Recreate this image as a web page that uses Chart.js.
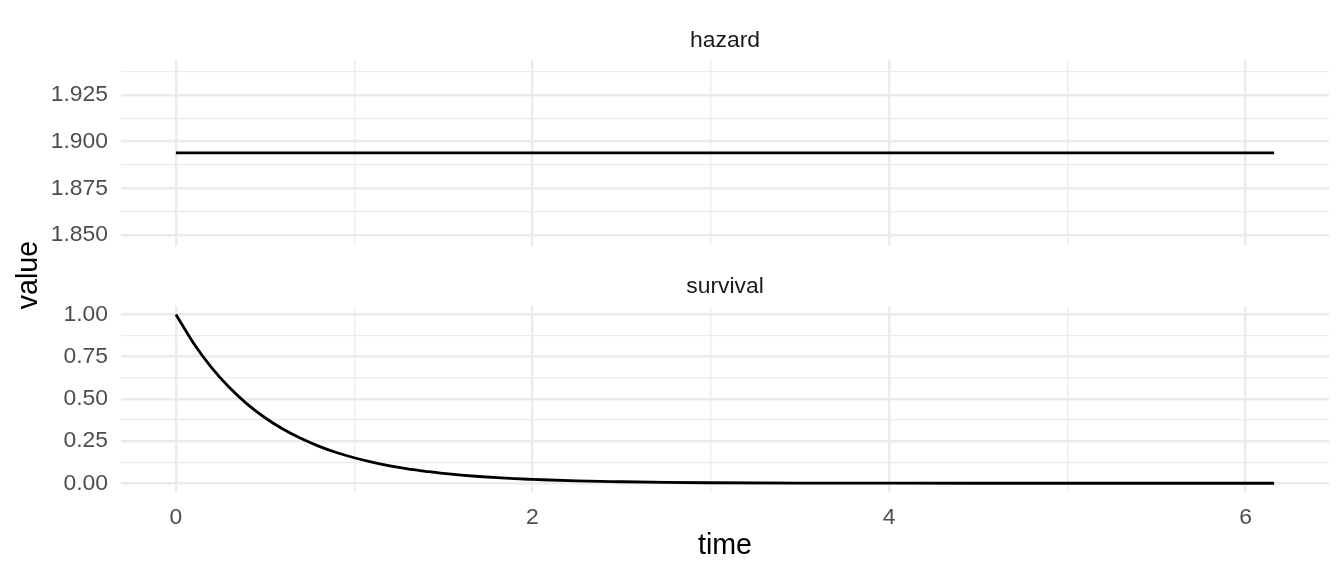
<!DOCTYPE html>
<html>
<head>
<meta charset="utf-8">
<script src="https://cdn.jsdelivr.net/npm/chart.js@4/dist/chart.umd.min.js"></script>
<style>
  html, body { margin: 0; padding: 0; background: #ffffff; }
  #wrap { position: relative; width: 1344px; height: 576px; }
  canvas { position: absolute; left: 0; top: 0; }
</style>
</head>
<body>
<div id="wrap">
  <canvas id="c1" width="1344" height="576"></canvas>
  <canvas id="c2" width="1344" height="576"></canvas>
</div>
<script>
// ---- data ----
const panelNames = ['hazard', 'survival'];
const times = [0, 0.1, 0.2, 0.3, 0.4, 0.5, 0.6, 0.7, 0.8, 0.9, 1.0, 1.1, 1.2, 1.3, 1.4, 1.5, 1.6, 1.7, 1.8, 1.9, 2.0, 2.25, 2.5, 2.75, 3.0, 3.5, 4.0, 4.5, 5.0, 5.5, 6.0, 6.16];
const hazardValues = [1.894, 1.894, 1.894, 1.894, 1.894, 1.894, 1.894, 1.894, 1.894, 1.894, 1.894, 1.894, 1.894, 1.894, 1.894, 1.894, 1.894, 1.894, 1.894, 1.894, 1.894, 1.894, 1.894, 1.894, 1.894, 1.894, 1.894, 1.894, 1.894, 1.894, 1.894, 1.894];
const survivalValues = [1.000, 0.828, 0.685, 0.567, 0.469, 0.388, 0.321, 0.266, 0.220, 0.182, 0.151, 0.125, 0.103, 0.085, 0.071, 0.058, 0.048, 0.040, 0.033, 0.027, 0.023, 0.014, 0.009, 0.005, 0.003, 0.001, 0.0005, 0.0002, 0.0001, 0, 0, 0];

const timeTickLabels = ['0', '2', '4', '6'];
const timeMajorTicks = [0, 2, 4, 6];
const timeMinorTicks = [1, 3, 5];
const hazardTickLabels = ['1.850', '1.875', '1.900', '1.925'];
const hazardMajorTicks = [1.850, 1.875, 1.900, 1.925];
const hazardMinorTicks = [1.8625, 1.8875, 1.9125, 1.9375];
const survivalTickLabels = ['0.00', '0.25', '0.50', '0.75', '1.00'];
const survivalMajorTicks = [0, 0.25, 0.5, 0.75, 1.0];
const survivalMinorTicks = [0.125, 0.375, 0.625, 0.875];

const timeRange = [-0.308, 6.468];
const hazardRange = [1.8441, 1.9437];
const survivalRange = [-0.05, 1.05];

// ---- styling ----
const FONT = '"Liberation Sans", Arial, Helvetica, sans-serif';
const GRID = '#EBEBEB';
const TICK_SIZE = 22.9;
const TITLE_SIZE = 28.6;
const near = (a, b) => Math.abs(a - b) < 1e-9;
const isIn = (arr, v) => arr.some(x => near(x, v));

function tickObjs(major, minor) {
  return major.concat(minor).sort((a, b) => a - b).map(v => ({ value: v }));
}
function labelFor(major, labels) {
  return function (value) {
    const i = major.findIndex(m => near(m, value));
    return i >= 0 ? labels[i] : '';
  };
}
function gridFor(major) {
  return {
    color: GRID,
    lineWidth: ctx => (ctx.tick && isIn(major, ctx.tick.value)) ? 2.4 : 1.3,
    drawTicks: false
  };
}

const stripPlugin = {
  id: 'strip',
  afterDraw(chart, args, opts) {
    const ca = chart.chartArea;
    const ctx = chart.ctx;
    ctx.save();
    ctx.font = TICK_SIZE + 'px ' + FONT;
    ctx.fillStyle = '#1A1A1A';
    ctx.textAlign = 'center';
    ctx.textBaseline = 'alphabetic';
    ctx.fillText(opts.text, (ca.left + ca.right) / 2, ca.top - 13.5);
    if (opts.yTitle) {
      ctx.translate(36.5, 275);
      ctx.rotate(-Math.PI / 2);
      ctx.font = TITLE_SIZE + 'px ' + FONT;
      ctx.fillStyle = '#000000';
      ctx.fillText(opts.yTitle, 0, 0);
    }
    ctx.restore();
  }
};

function makeChart(id, values, yRange, yMajor, yMinor, yLabels, stripText, top, bottomPad, showX, yTitle) {
  const data = times.map((t, i) => ({ x: t, y: values[i] }));
  return new Chart(document.getElementById(id), {
    type: 'line',
    data: {
      datasets: [{
        data: data,
        borderColor: '#000000',
        borderWidth: 2.8,
        pointRadius: 0,
        fill: false,
        cubicInterpolationMode: 'monotone'
      }]
    },
    options: {
      responsive: false,
      animation: false,
      devicePixelRatio: 1,
      layout: { padding: { top: top, bottom: bottomPad, left: 0, right: 15 } },
      plugins: {
        legend: { display: false },
        tooltip: { enabled: false },
        title: { display: false },
        strip: { text: stripText, yTitle: yTitle }
      },
      scales: {
        x: {
          type: 'linear',
          min: timeRange[0],
          max: timeRange[1],
          afterBuildTicks: s => { s.ticks = tickObjs(timeMajorTicks, timeMinorTicks); },
          afterFit: s => { s.height = showX ? 84.3 : 0; },
          grid: gridFor(timeMajorTicks),
          border: { display: false },
          ticks: {
            display: showX,
            autoSkip: false,
            maxRotation: 0,
            padding: 12,
            color: '#4D4D4D',
            font: { family: FONT, size: TICK_SIZE },
            callback: labelFor(timeMajorTicks, timeTickLabels)
          },
          title: {
            display: showX,
            text: 'time',
            color: '#000000',
            font: { family: FONT, size: TITLE_SIZE },
            padding: { top: 0, bottom: 13 }
          }
        },
        y: {
          type: 'linear',
          min: yRange[0],
          max: yRange[1],
          afterBuildTicks: s => { s.ticks = tickObjs(yMajor, yMinor); },
          afterFit: s => { s.width = 121; },
          grid: gridFor(yMajor),
          border: { display: false },
          ticks: {
            autoSkip: false,
            padding: 13,
            color: '#4D4D4D',
            font: { family: FONT, size: TICK_SIZE },
            callback: labelFor(yMajor, yLabels)
          }
        }
      }
    },
    plugins: [stripPlugin]
  });
}

makeChart('c1', hazardValues, hazardRange, hazardMajorTicks, hazardMinorTicks, hazardTickLabels, panelNames[0], 60, 330, false, null);
makeChart('c2', survivalValues, survivalRange, survivalMajorTicks, survivalMinorTicks, survivalTickLabels, panelNames[1], 306, 0, true, 'value');
</script>
</body>
</html>
